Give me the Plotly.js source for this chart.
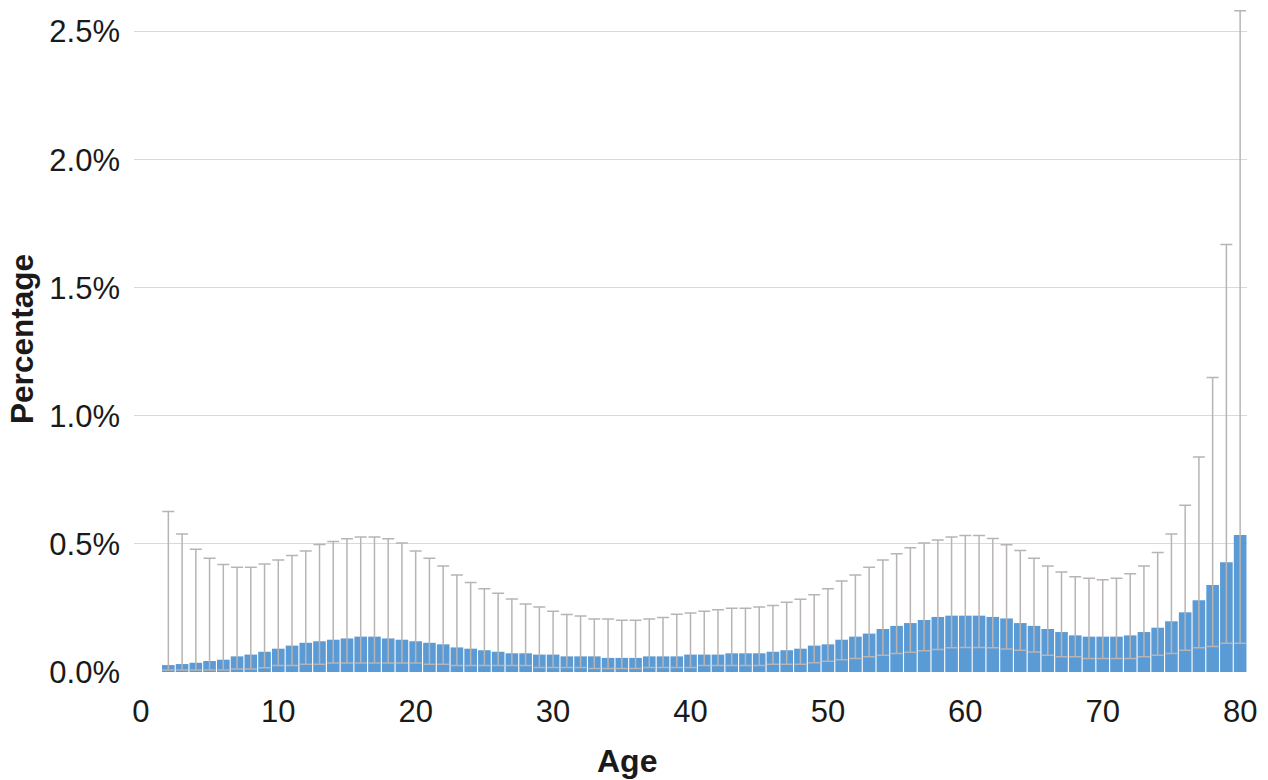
<!DOCTYPE html>
<html>
<head>
<meta charset="utf-8">
<script src="https://cdn.plot.ly/plotly-3.0.1.min.js"></script>
<style>
  html, body { margin: 0; padding: 0; background: #ffffff; }
  #chart { width: 1268px; height: 780px; }
</style>
</head>
<body>
<div id="chart"></div>
<script>
// Ages 2..80
const ages = [];
for (let a = 2; a <= 80; a++) ages.push(a);

// Percentage of population at each age (%)
const percentage = [
  0.027, 0.031, 0.036, 0.043, 0.048, 0.061, 0.068, 0.079, 0.091, 0.103,
  0.114, 0.120, 0.126, 0.131, 0.138, 0.138, 0.131, 0.126, 0.120, 0.114,
  0.108, 0.096, 0.091, 0.085, 0.079, 0.073, 0.073, 0.068, 0.068, 0.061,
  0.061, 0.061, 0.055, 0.055, 0.055, 0.061, 0.061, 0.061, 0.068, 0.068,
  0.068, 0.073, 0.073, 0.073, 0.079, 0.085, 0.091, 0.103, 0.108, 0.126,
  0.138, 0.150, 0.168, 0.180, 0.191, 0.203, 0.215, 0.220, 0.220, 0.220,
  0.215, 0.209, 0.191, 0.180, 0.168, 0.156, 0.143, 0.138, 0.138, 0.138,
  0.143, 0.156, 0.173, 0.198, 0.233, 0.280, 0.340, 0.428, 0.535
];

// Upper bound of the interval (%)
const upperBound = [
  0.627, 0.539, 0.479, 0.444, 0.420, 0.409, 0.409, 0.422, 0.437, 0.455,
  0.472, 0.498, 0.509, 0.520, 0.527, 0.527, 0.520, 0.504, 0.472, 0.444,
  0.414, 0.379, 0.349, 0.325, 0.307, 0.285, 0.265, 0.254, 0.237, 0.224,
  0.219, 0.207, 0.207, 0.202, 0.202, 0.207, 0.213, 0.225, 0.230, 0.237,
  0.243, 0.249, 0.249, 0.254, 0.260, 0.272, 0.284, 0.302, 0.325, 0.355,
  0.379, 0.409, 0.437, 0.462, 0.485, 0.504, 0.515, 0.527, 0.533, 0.533,
  0.521, 0.497, 0.474, 0.444, 0.414, 0.390, 0.372, 0.366, 0.360, 0.366,
  0.384, 0.414, 0.467, 0.539, 0.651, 0.839, 1.150, 1.669, 2.581
];

// Lower bound of the interval (%)
const lowerBound = [
  0.008, 0.008, 0.008, 0.008, 0.008, 0.012, 0.012, 0.017, 0.025, 0.025,
  0.030, 0.030, 0.035, 0.035, 0.035, 0.035, 0.035, 0.035, 0.035, 0.030,
  0.030, 0.025, 0.025, 0.025, 0.025, 0.025, 0.025, 0.018, 0.018, 0.018,
  0.018, 0.014, 0.014, 0.014, 0.014, 0.018, 0.018, 0.018, 0.018, 0.025,
  0.025, 0.025, 0.025, 0.025, 0.030, 0.030, 0.030, 0.036, 0.042, 0.048,
  0.053, 0.060, 0.065, 0.072, 0.077, 0.083, 0.088, 0.095, 0.096, 0.096,
  0.095, 0.090, 0.085, 0.078, 0.065, 0.060, 0.060, 0.053, 0.053, 0.053,
  0.053, 0.060, 0.065, 0.072, 0.085, 0.095, 0.100, 0.112, 0.112
];

const yTickVals = [0, 0.5, 1.0, 1.5, 2.0, 2.5];
const xTickVals = [0, 10, 20, 30, 40, 50, 60, 70, 80];

const errPlus = upperBound.map((u, i) => u - percentage[i]);
const errMinus = lowerBound.map((l, i) => percentage[i] - l);

const trace = {
  type: 'bar',
  x: ages,
  y: percentage,
  marker: { color: '#5b9bd5', line: { width: 0 } },
  error_y: {
    type: 'data',
    symmetric: false,
    array: errPlus,
    arrayminus: errMinus,
    color: '#b8b4b4',
    thickness: 1.5,
    width: 6
  },
  cliponaxis: false,
  hoverinfo: 'x+y'
};

const font = 'Liberation Sans, Arial, Helvetica, sans-serif';

const layout = {
  width: 1268,
  height: 780,
  margin: { l: 134, r: 21, t: 6, b: 108 },
  paper_bgcolor: '#ffffff',
  plot_bgcolor: '#ffffff',
  showlegend: false,
  bargap: 0.08,
  font: { family: font, color: '#1a1a1a' },
  xaxis: {
    range: [-0.5, 80.5],
    tickvals: xTickVals,
    ticktext: xTickVals.map(String),
    showgrid: false,
    zeroline: false,
    showline: false,
    ticks: '',
    ticklabelstandoff: 18,
    tickfont: { family: font, size: 31, color: '#1a1a1a' }
  },
  yaxis: {
    range: [0, 2.6],
    tickvals: yTickVals,
    ticktext: yTickVals.map(v => v.toFixed(1) + '%'),
    showgrid: true,
    gridcolor: '#d9d9d9',
    gridwidth: 1,
    zeroline: false,
    showline: false,
    ticks: '',
    ticklabelstandoff: 13,
    tickfont: { family: font, size: 31, color: '#1a1a1a' },
    title: { text: '<b>Percentage</b>', font: { family: font, size: 31.5, color: '#1a1a1a' }, standoff: 6 }
  },
  annotations: [{
    text: '<b>Age</b>',
    xref: 'paper', yref: 'paper',
    x: 0.443, y: -0.134,
    xanchor: 'center', yanchor: 'middle',
    showarrow: false,
    font: { family: font, size: 32, color: '#1a1a1a' }
  }]
};

Plotly.newPlot('chart', [trace], layout, { displayModeBar: false, staticPlot: true });
</script>
</body>
</html>
